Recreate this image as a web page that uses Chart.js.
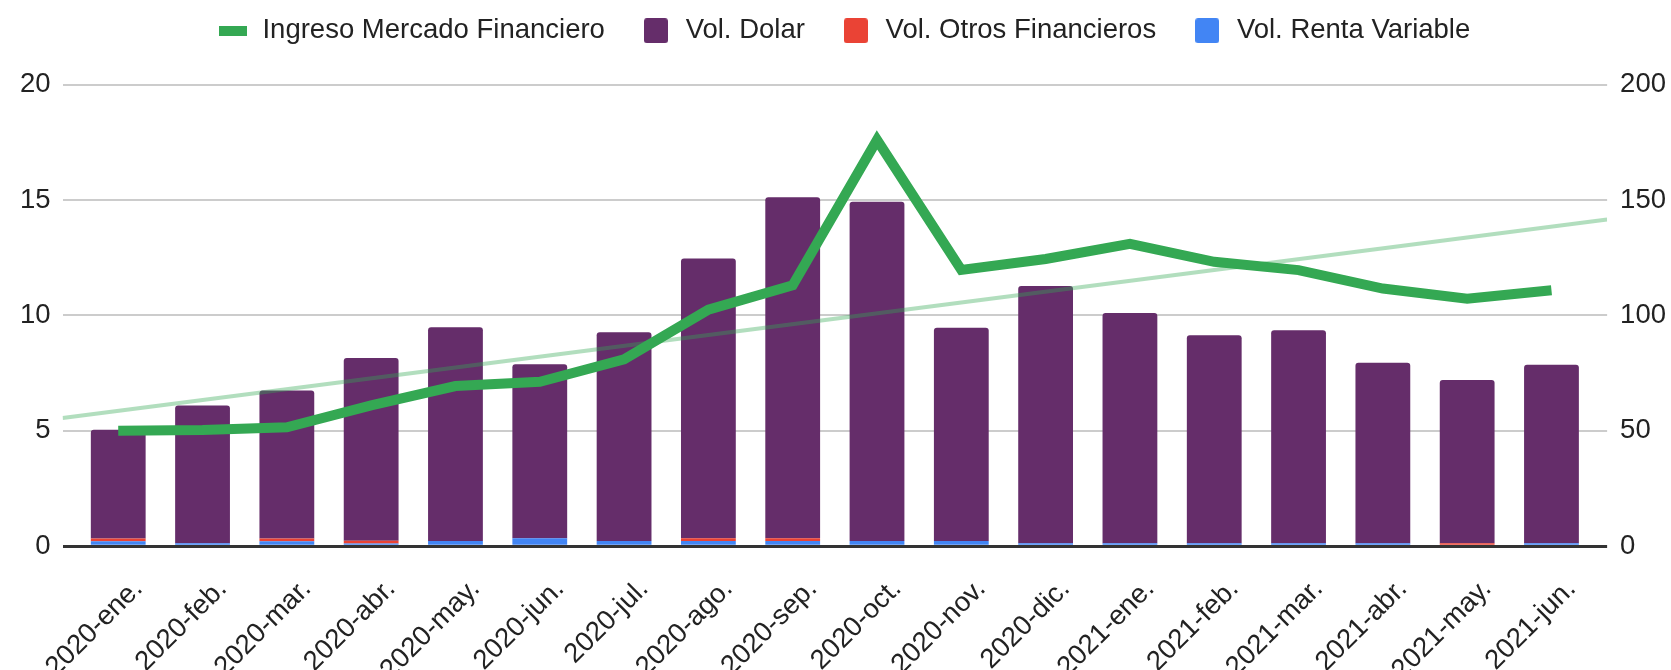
<!DOCTYPE html>
<html lang="es">
<head>
<meta charset="utf-8">
<title>Ingreso Mercado Financiero</title>
<script src="https://cdn.jsdelivr.net/npm/chart.js@4.4.1/dist/chart.umd.min.js"></script>
<style>
    html, body { margin: 0; padding: 0; background: #fff; }
    #wrap { width: 1671px; height: 670px; }
</style>
</head>
<body>
<div id="wrap"><canvas id="grafico" width="1671" height="670"></canvas></div>
<script>
// Datos
const meses = ['2020-ene.', '2020-feb.', '2020-mar.', '2020-abr.', '2020-may.', '2020-jun.',
    '2020-jul.', '2020-ago.', '2020-sep.', '2020-oct.', '2020-nov.', '2020-dic.',
    '2021-ene.', '2021-feb.', '2021-mar.', '2021-abr.', '2021-may.', '2021-jun.'];

// eje derecho (0-200)
const ingresoMercado = [50, 50.3, 51.5, 61, 69.4, 71.2, 81, 102.5, 113, 176, 119.7, 124.4, 131, 123.2, 119.6, 111.6, 107.2, 110.9];

// eje izquierdo (0-20), apilados
const volRentaVariable = [0.22, 0.13, 0.22, 0.12, 0.23, 0.35, 0.23, 0.23, 0.23, 0.23, 0.23, 0.13, 0.13, 0.13, 0.13, 0.13, 0, 0.13];
const volOtros = [0.12, 0, 0.12, 0.12, 0, 0, 0, 0.12, 0.12, 0, 0, 0, 0, 0, 0, 0, 0.13, 0];
const volDolar = [4.71, 5.97, 6.41, 7.91, 9.25, 7.53, 9.04, 12.11, 14.77, 14.69, 9.23, 11.14, 9.97, 9.01, 9.22, 7.82, 7.07, 7.73];

// linea de tendencia (valores en los extremos del area)
const tendencia = [55.5, 141.5];

const ticksIzq = [0, 5, 10, 15, 20];
const ticksDer = [0, 50, 100, 150, 200];

const xMin = -0.66;
const xMax = 17.66;

const fuente = "'Liberation Sans', Arial, sans-serif";
const ordenLeyenda = ['Ingreso Mercado Financiero', 'Vol. Dolar', 'Vol. Otros Financieros', 'Vol. Renta Variable'];

function puntos(valores) {
    return valores.map((v, i) => ({ x: i, y: v }));
}

// iconos de la leyenda
function iconoLinea(color) {
    const c = document.createElement('canvas');
    c.width = 28;
    c.height = 10;
    const g = c.getContext('2d');
    g.fillStyle = color;
    g.fillRect(0, 0, 28, 10);
    return c;
}

function iconoCuadro(color) {
    const c = document.createElement('canvas');
    c.width = 24;
    c.height = 25;
    const g = c.getContext('2d');
    g.fillStyle = color;
    g.beginPath();
    g.roundRect(0, 0, 24, 25, 3);
    g.fill();
    return c;
}

// espacio extra debajo de la leyenda
const extraLeyenda = {
    id: 'extraLeyenda',
    beforeLayout(chart) {
        const legend = chart.legend;
        if (legend && !legend._parcheado) {
            const fitOriginal = legend.fit;
            legend.fit = function() {
                fitOriginal.call(this);
                this.height += 30;
            };
            legend._parcheado = true;
        }
    }
};

const ctx = document.getElementById('grafico').getContext('2d');
const grafico = new Chart(ctx, {
    type: 'bar',
    data: {
        datasets: [
            {
                label: 'Vol. Renta Variable',
                data: puntos(volRentaVariable),
                backgroundColor: '#4285f4',
                stack: 'vol',
                yAxisID: 'y',
                order: 2,
                barPercentage: 0.65,
                categoryPercentage: 1
            },
            {
                label: 'Vol. Otros Financieros',
                data: puntos(volOtros),
                backgroundColor: '#ea4335',
                stack: 'vol',
                yAxisID: 'y',
                order: 2,
                barPercentage: 0.65,
                categoryPercentage: 1
            },
            {
                label: 'Vol. Dolar',
                data: puntos(volDolar),
                backgroundColor: '#652d6a',
                stack: 'vol',
                yAxisID: 'y',
                order: 2,
                barPercentage: 0.65,
                categoryPercentage: 1,
                borderRadius: { topLeft: 3, topRight: 3 },
                borderSkipped: 'bottom'
            },
            {
                type: 'line',
                label: 'tendencia',
                data: [{ x: xMin, y: tendencia[0] }, { x: xMax, y: tendencia[1] }],
                borderColor: 'rgba(52, 168, 83, 0.38)',
                borderWidth: 4,
                pointRadius: 0,
                yAxisID: 'y1',
                order: 1
            },
            {
                type: 'line',
                label: 'Ingreso Mercado Financiero',
                data: puntos(ingresoMercado),
                borderColor: '#34a853',
                backgroundColor: '#34a853',
                borderWidth: 10,
                borderJoinStyle: 'miter',
                pointRadius: 0,
                tension: 0,
                yAxisID: 'y1',
                order: 0
            }
        ]
    },
    options: {
        responsive: false,
        animation: false,
        devicePixelRatio: 1,
        layout: {
            padding: { top: -18, left: 8, right: -8, bottom: -35 }
        },
        plugins: {
            tooltip: { enabled: false },
            legend: {
                position: 'top',
                align: 'center',
                labels: {
                    font: { family: fuente, size: 27.5 },
                    color: '#222',
                    padding: 35,
                    usePointStyle: true,
                    pointStyleWidth: 32,
                    boxHeight: 25,
                    generateLabels: function(chart) {
                        const base = Chart.defaults.plugins.legend.labels.generateLabels(chart);
                        return base
                            .filter(it => ordenLeyenda.includes(it.text))
                            .sort((a, b) => ordenLeyenda.indexOf(a.text) - ordenLeyenda.indexOf(b.text))
                            .map(it => {
                                if (it.text === 'Ingreso Mercado Financiero') {
                                    it.pointStyle = iconoLinea(it.strokeStyle);
                                } else {
                                    it.pointStyle = iconoCuadro(it.fillStyle);
                                }
                                return it;
                            });
                    }
                }
            }
        },
        scales: {
            x: {
                type: 'linear',
                min: xMin,
                max: xMax,
                offset: false,
                stacked: true,
                grid: { display: false, offset: false },
                border: { display: false },
                afterBuildTicks: function(axis) {
                    axis.ticks = meses.map((m, i) => ({ value: i }));
                },
                afterFit: function(axis) {
                    axis.paddingLeft = 0;
                    axis.paddingRight = 0;
                },
                ticks: {
                    autoSkip: false,
                    minRotation: 45,
                    maxRotation: 45,
                    padding: 18.5,
                    labelOffset: 20,
                    color: '#222',
                    font: { family: fuente, size: 27.5 },
                    callback: function(value) {
                        return meses[value];
                    }
                }
            },
            y: {
                position: 'left',
                min: 0,
                max: 20,
                stacked: true,
                border: { display: false },
                afterBuildTicks: function(axis) {
                    axis.ticks = ticksIzq.map(v => ({ value: v }));
                },
                grid: {
                    drawTicks: false,
                    color: c => c.tick.value === 0 ? '#333' : '#cccccc',
                    lineWidth: c => c.tick.value === 0 ? 3 : 2
                },
                ticks: {
                    padding: 12,
                    color: '#222',
                    font: { family: fuente, size: 27.5 }
                }
            },
            y1: {
                position: 'right',
                min: 0,
                max: 200,
                border: { display: false },
                grid: { display: false, drawTicks: false },
                afterBuildTicks: function(axis) {
                    axis.ticks = ticksDer.map(v => ({ value: v }));
                },
                ticks: {
                    padding: 13,
                    color: '#222',
                    font: { family: fuente, size: 27.5 }
                }
            }
        }
    },
    plugins: [extraLeyenda]
});
</script>
</body>
</html>
